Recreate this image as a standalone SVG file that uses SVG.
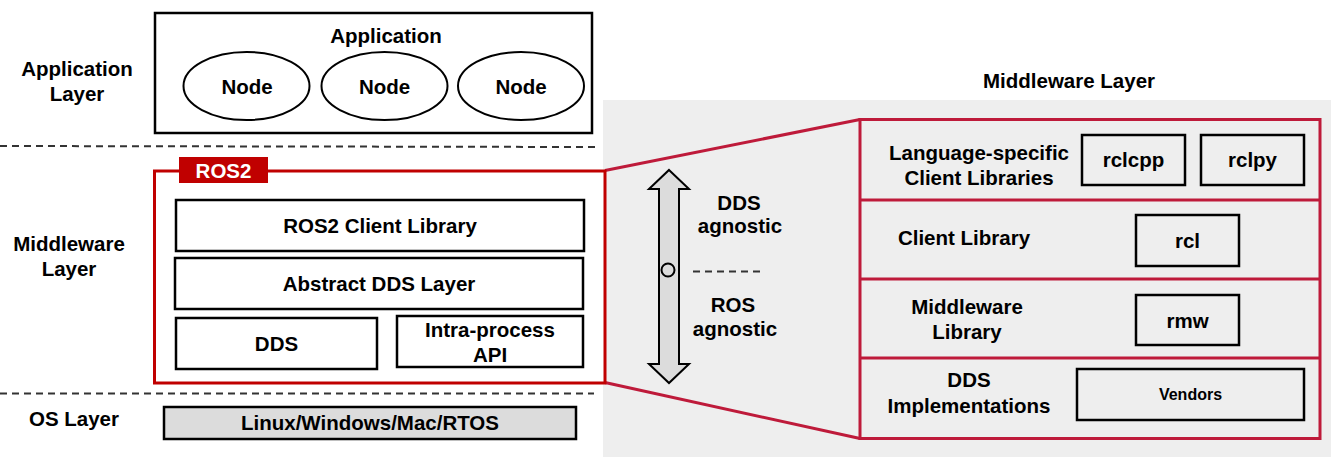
<svg xmlns="http://www.w3.org/2000/svg" width="1331" height="470" viewBox="0 0 1331 470">
<style>
text{font-family:"Liberation Sans",Arial,sans-serif;font-weight:bold;font-size:20.5px;fill:#000;text-anchor:middle}
.box{fill:#fff;stroke:#000;stroke-width:2.5}
.pbox{fill:none;stroke:#000;stroke-width:2.5}
.ell{fill:#fff;stroke:#000;stroke-width:2}
.dash{stroke:#333;stroke-width:2;stroke-dasharray:7,5;fill:none}
.crim{stroke:#be1a3a;stroke-width:3;fill:none}
</style>
<rect x="603" y="100" width="728" height="357" fill="#eeeeee"/>
<g id="labels">
<text x="77" y="76">Application</text>
<text x="77" y="101">Layer</text>
<text x="69" y="251">Middleware</text>
<text x="69" y="276">Layer</text>
<text x="74" y="426">OS Layer</text>
<text x="1069" y="88">Middleware Layer</text>
</g>
<g id="connectors">
<line class="dash" x1="0" y1="146" x2="597" y2="147"/>
<line class="dash" x1="0" y1="393.5" x2="594" y2="393.5"/>
<line class="crim" x1="605" y1="170.5" x2="860" y2="119.5"/>
<line class="crim" x1="605" y1="382.5" x2="860" y2="438.5"/>
<polygon points="669,170 689,189 679,189 679,364 689,364 669,383 649,364 659,364 659,189 649,189" fill="#dcdcdc" stroke="#000" stroke-width="2" stroke-linejoin="miter"/>
<circle cx="668" cy="270" r="6.5" fill="none" stroke="#000" stroke-width="2"/>
<line class="dash" x1="693" y1="271.5" x2="762" y2="271.5"/>
</g>
<g id="application">
<rect class="box" x="155" y="13" width="437" height="120"/>
<text x="386" y="43">Application</text>
</g>
<g id="node1"><ellipse class="ell" cx="246.5" cy="86" rx="63" ry="34"/><text x="247" y="94">Node</text></g>
<g id="node2"><ellipse class="ell" cx="384.5" cy="86" rx="63" ry="34"/><text x="384.5" y="94">Node</text></g>
<g id="node3"><ellipse class="ell" cx="521" cy="86" rx="63" ry="34"/><text x="521" y="94">Node</text></g>
<g id="ros2">
<rect x="154.5" y="171" width="450.5" height="212" fill="#fff" stroke="#c00000" stroke-width="3"/>
<rect x="179" y="157" width="89" height="26" fill="#c00000"/>
<text x="223.5" y="178" style="fill:#fff">ROS2</text>
</g>
<g id="ros2-client-library"><rect class="box" x="176" y="200" width="408" height="51"/><text x="380" y="233">ROS2 Client Library</text></g>
<g id="abstract-dds-layer"><rect class="box" x="175" y="258" width="408" height="51"/><text x="379" y="291">Abstract DDS Layer</text></g>
<g id="dds"><rect class="box" x="176" y="318" width="201" height="51"/><text x="276.5" y="351">DDS</text></g>
<g id="intra-process"><rect class="box" x="397" y="316" width="186" height="51"/><text x="490" y="337">Intra-process</text><text x="490" y="362">API</text></g>
<g id="os"><rect x="164" y="407" width="412" height="32" fill="#dcdcdc" stroke="#000" stroke-width="2.5"/><text x="370" y="430">Linux/Windows/Mac/RTOS</text></g>
<g id="agnostic">
<text x="739" y="210">DDS</text><text x="740" y="233">agnostic</text>
<text x="733" y="312">ROS</text><text x="735" y="336">agnostic</text>
</g>
<g id="middleware-panel">
<rect class="crim" x="860" y="119.5" width="460" height="319"/>
<line class="crim" x1="860" y1="200" x2="1320" y2="200"/>
<line class="crim" x1="860" y1="279" x2="1320" y2="279"/>
<line class="crim" x1="860" y1="358" x2="1320" y2="358"/>
</g>
<g id="language-specific">
<text x="979" y="160">Language-specific</text><text x="979" y="185">Client Libraries</text>
<rect class="pbox" x="1082" y="135" width="103" height="50"/><text x="1133.5" y="167">rclcpp</text>
<rect class="pbox" x="1201" y="135" width="103" height="50"/><text x="1252.5" y="167">rclpy</text>
</g>
<g id="client-library">
<text x="964" y="245">Client Library</text>
<rect class="pbox" x="1136" y="215" width="103" height="51"/><text x="1187.5" y="248">rcl</text>
</g>
<g id="middleware-library">
<text x="967" y="314">Middleware</text><text x="967" y="339">Library</text>
<rect class="pbox" x="1136" y="295" width="103" height="50"/><text x="1187.5" y="328">rmw</text>
</g>
<g id="dds-implementations">
<text x="969" y="387">DDS</text><text x="969" y="413">Implementations</text>
<rect class="pbox" x="1077" y="369" width="227" height="51"/><text x="1190.5" y="400" style="font-size:16px">Vendors</text>
</g>
</svg>
